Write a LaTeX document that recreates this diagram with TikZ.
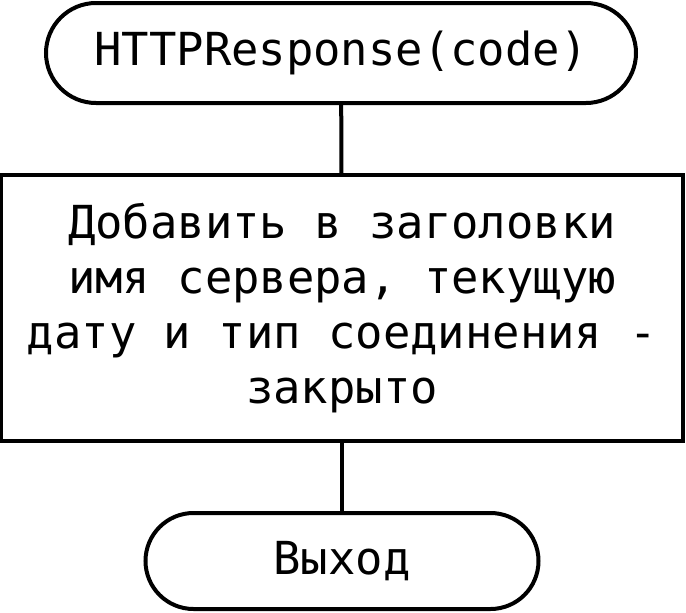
\documentclass[tikz,border=0pt]{standalone}
\usepackage{fontspec}
\setmonofont{DejaVu Sans Mono}
\usetikzlibrary{shapes.misc}

\begin{document}
\begin{tikzpicture}[x=1pt, y=-1pt, line width=4pt,
  term/.style={draw, rounded rectangle, minimum height=100pt, inner sep=0pt, font=\ttfamily\fontsize{45.5}{55}\selectfont},
  proc/.style={draw, rectangle, minimum width=682pt, minimum height=266pt, inner sep=0pt, align=center, font=\ttfamily\fontsize{45.5}{55}\selectfont}]
\useasboundingbox (0,0) rectangle (686,613);

\node (start) at (341,53) [term, minimum width=590pt] {HTTPResponse(code)};
\node (hdrs) at (342,308) [proc] {Добавить в заголовки\\имя сервера, текущую\\дату и тип соединения -\\закрыто};
\node (stop) at (342,561) [term, minimum width=393pt, minimum height=96pt] {Выход};

\draw (start) -- (hdrs);
\draw (hdrs) -- (stop);

\end{tikzpicture}
\end{document}
